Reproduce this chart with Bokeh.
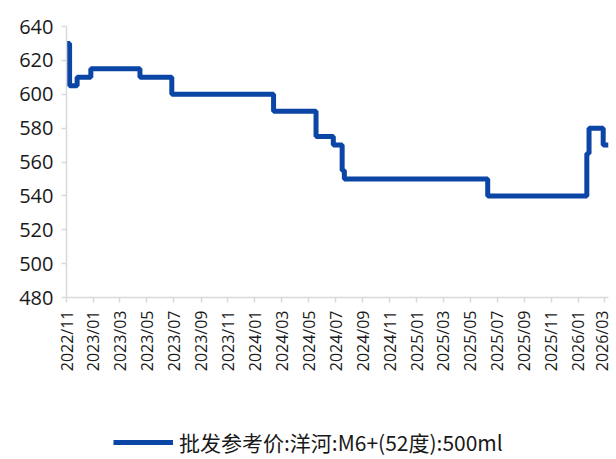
import math
from datetime import datetime
from bokeh.plotting import figure
from bokeh.layouts import column
from bokeh.models import Range1d, FixedTicker, DatetimeTickFormatter, Legend, LegendItem
from bokeh.embed import file_html
from bokeh.resources import INLINE

# data (step changes)
change_dates = ["2022-11-01", "2022-11-08", "2022-11-25", "2022-12-26", "2023-04-16",
                "2023-06-27", "2024-02-12", "2024-05-18", "2024-06-26", "2024-07-16",
                "2024-07-21", "2025-06-10", "2026-01-20", "2026-01-25", "2026-02-26",
                "2026-03-10"]
prices = [630, 605, 610, 615, 610, 600, 590, 575, 570, 555, 550, 540, 565, 580, 570, 570]
tick_months = ["2022/11", "2023/01", "2023/03", "2023/05", "2023/07", "2023/09", "2023/11",
               "2024/01", "2024/03", "2024/05", "2024/07", "2024/09", "2024/11", "2025/01",
               "2025/03", "2025/05", "2025/07", "2025/09", "2025/11", "2026/01", "2026/03"]
y_ticks = [480, 500, 520, 540, 560, 580, 600, 620, 640]
series_name = "批发参考价:洋河:M6+(52度):500ml"

LINE_COLOR = "#0B45A6"

xs = [datetime.strptime(d, "%Y-%m-%d") for d in change_dates]
tick_dt = [datetime.strptime(t, "%Y/%m") for t in tick_months]
tick_ms = [(t - datetime(1970, 1, 1)).total_seconds() * 1000 for t in tick_dt]

p = figure(width=612, height=425, x_axis_type="datetime", output_backend="svg",
           toolbar_location=None, min_border_left=66, min_border_right=4,
           min_border_top=26, min_border_bottom=128, outline_line_color=None,
           x_range=Range1d(datetime(2022, 11, 1), datetime(2026, 3, 10)),
           y_range=Range1d(480, 640))

r = p.step(xs, prices, mode="after", line_width=5, color=LINE_COLOR)

p.xgrid.visible = False
p.ygrid.visible = False

for ax in (p.xaxis, p.yaxis):
    ax.axis_line_color = "#D9D9D9"
    ax.axis_line_width = 1.5
    ax.major_tick_line_color = "#D9D9D9"
    ax.major_tick_line_width = 1.5
    ax.minor_tick_line_color = None
    ax.major_tick_in = 0
    ax.major_tick_out = 5
    ax.major_label_text_font = "Open Sans"
    ax.major_label_text_color = "#1a1a1a"

p.yaxis.ticker = FixedTicker(ticks=y_ticks)
p.yaxis.major_label_text_font_size = "20px"
p.yaxis.major_label_standoff = 8

p.xaxis.ticker = FixedTicker(ticks=tick_ms)
p.xaxis.formatter = DatetimeTickFormatter(days="%Y/%m", months="%Y/%m", years="%Y/%m")
p.xaxis.major_label_orientation = math.pi / 2
p.xaxis.major_label_text_font_size = "16px"
p.xaxis.major_label_standoff = 8

# legend in its own small strip below the chart (series drawn outside its view range)
lg = figure(width=612, height=34, output_backend="svg", toolbar_location=None,
            min_border=0, outline_line_color=None, x_range=Range1d(0, 1),
            y_range=Range1d(0, 1))
lg.axis.visible = False
lg.grid.visible = False
lr = lg.step(xs, prices, mode="after", line_width=5, color=LINE_COLOR)
legend = Legend(items=[LegendItem(label=series_name, renderers=[lr])],
                orientation="horizontal", location=(47, 2),
                label_text_font="Noto Sans CJK SC", label_text_font_size="21px",
                label_text_color="#1a1a1a", glyph_width=60, glyph_height=20,
                label_height=20, border_line_color=None, background_fill_alpha=0,
                margin=0, padding=0, label_standoff=6)
lg.add_layout(legend, "center")

layout = column(p, lg, spacing=0)
open("out.html", "w").write(file_html(layout, INLINE))
